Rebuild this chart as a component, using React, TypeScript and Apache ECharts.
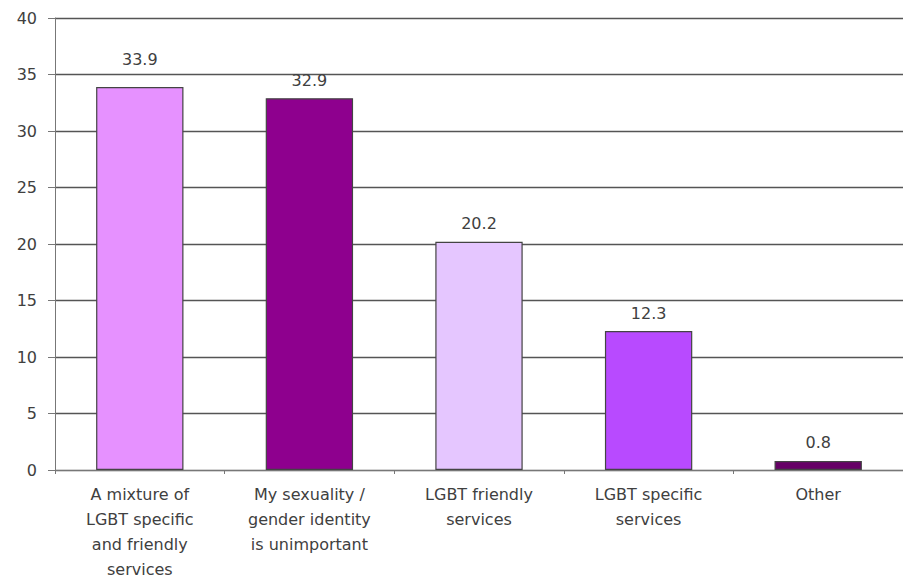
import React, { useEffect, useRef } from "react";
import * as echarts from "echarts";

const categories = [
  "A mixture of\nLGBT specific\nand friendly\nservices",
  "My sexuality /\ngender identity\nis unimportant",
  "LGBT friendly\nservices",
  "LGBT specific\nservices",
  "Other",
];
const values = [33.9, 32.9, 20.2, 12.3, 0.8];
const barColors = ["#E691FF", "#8E008E", "#E5C6FF", "#B84AFF", "#660066"];
const yTicks = { min: 0, max: 40, interval: 5 };

export default function App() {
  const ref = useRef<HTMLDivElement>(null);
  useEffect(() => {
    if (!ref.current) return;
    const chart = echarts.init(ref.current, undefined, { renderer: "svg" });
    const font = "DejaVu Sans";
    chart.setOption({
      animation: false,
      backgroundColor: "#ffffff",
      grid: { left: 55, right: -7, top: 18, bottom: 113, containLabel: false },
      xAxis: {
        type: "category",
        data: categories,
        axisLine: { show: true, lineStyle: { color: "#777", width: 1 } },
        axisTick: { show: true, length: 4, interval: 0, lineStyle: { color: "#777" } },
        axisLabel: {
          interval: 0,
          margin: 12,
          fontFamily: font,
          fontSize: 16,
          lineHeight: 25,
          color: "#404040",
        },
      },
      yAxis: {
        type: "value",
        min: yTicks.min,
        max: yTicks.max,
        interval: yTicks.interval,
        axisLine: { show: true, lineStyle: { color: "#777", width: 1 } },
        axisTick: { show: true, length: 7, lineStyle: { color: "#777" } },
        axisLabel: {
          margin: 18,
          fontFamily: font,
          fontSize: 16,
          color: "#404040",
        },
        splitLine: { show: true, lineStyle: { color: "#555", width: 1.3 } },
      },
      series: [
        {
          type: "bar",
          barWidth: "51.5%",
          data: values.map((v, i) => ({
            value: v,
            itemStyle: { color: barColors[i], borderColor: "#444", borderWidth: 1.2 },
            label: i === 0 ? { distance: 19 } : undefined,
          })),
          label: {
            show: true,
            position: "top",
            distance: 10,
            fontFamily: font,
            fontSize: 16,
            color: "#404040",
            formatter: (p: any) => p.value.toFixed(1),
          },
        },
      ],
    });
    return () => chart.dispose();
  }, []);
  return <div ref={ref} style={{ width: 903, height: 583, position: "absolute", left: 0, top: 0 }} />;
}
